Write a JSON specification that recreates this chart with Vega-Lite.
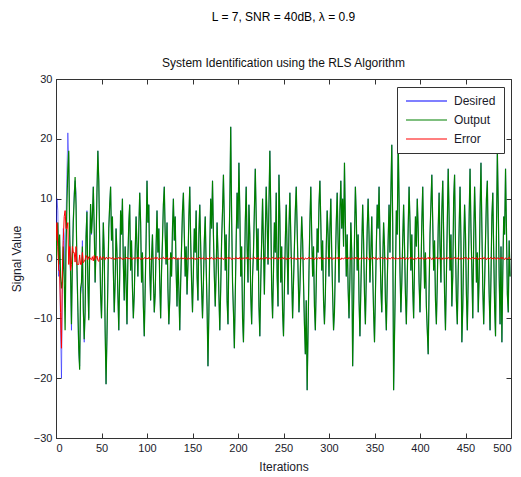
{
"$schema":"https://vega.github.io/schema/vega-lite/v6.json",
"width":455,"height":359,
"autosize":{"type":"none"},
"padding":{"left":56,"top":79,"right":10,"bottom":39},
"background":"white",
"title":{"text":"L = 7, SNR = 40dB, λ = 0.9","subtitle":"System Identification using the RLS Algorithm","anchor":"middle","font":"Liberation Sans","fontSize":12,"fontWeight":"normal","color":"#000","subtitleFont":"Liberation Sans","subtitleFontSize":12,"subtitleColor":"#111","subtitlePadding":34,"offset":3},
"config":{
 "view":{"stroke":"#333","strokeWidth":1},
 "axis":{"grid":false,"labelFont":"Liberation Sans","labelFontSize":11,"labelColor":"#1a1a2a","titleFont":"Liberation Sans","titleFontSize":12,"titleFontWeight":"normal","titleColor":"#1a1a2a","tickColor":"#333","domainColor":"#333","tickSize":-5,"labelPadding":9},
 "legend":{"orient":"none","legendX":341,"legendY":8,"title":null,"symbolType":"stroke","symbolSize":1681,"symbolStrokeWidth":1.2,"clipHeight":12,"labelFont":"Liberation Sans","labelFontSize":12,"labelColor":"#1a1a2a","strokeColor":"#333","fillColor":"white","padding":8,"rowPadding":7,"labelOffset":6}
},
"data":{"values":[
{"i":0,"d":3,"y":0,"e":3},{"i":1,"d":10,"y":4,"e":6},{"i":2,"d":8,"y":6,"e":2},{"i":3,"d":-3,"y":-1,"e":-2},{"i":4,"d":2,"y":4,"e":-2},{"i":5,"d":-12,"y":-3,"e":-9},{"i":6,"d":-20,"y":-5,"e":-15},{"i":7,"d":-6,"y":-4,"e":-2},{"i":8,"d":5,"y":2,"e":3},{"i":9,"d":4,"y":-3,"e":7},
{"i":10,"d":-4,"y":-12,"e":8},{"i":11,"d":6,"y":1,"e":5},{"i":12,"d":14,"y":9,"e":5},{"i":13,"d":21,"y":15,"e":6},{"i":14,"d":17,"y":18,"e":-1},{"i":15,"d":6,"y":4,"e":2},{"i":16,"d":-4,"y":-2,"e":-2},{"i":17,"d":-12,"y":-11,"e":-1},{"i":18,"d":1,"y":-1,"e":2},{"i":19,"d":7,"y":6,"e":1},
{"i":20,"d":11,"y":10,"e":1},{"i":21,"d":13,"y":13.6,"e":-0.6},{"i":22,"d":11,"y":9,"e":2},{"i":23,"d":-2,"y":-1,"e":-1},{"i":24,"d":-9,"y":-8,"e":-1},{"i":25,"d":-16,"y":-15,"e":-1},{"i":26,"d":-18,"y":-18.6,"e":0.6},{"i":27,"d":-6,"y":-5,"e":-1},{"i":28,"d":-5,"y":-4,"e":-1},{"i":29,"d":3,"y":2,"e":1},
{"i":30,"d":-9,"y":-8.3,"e":-0.7},{"i":31,"d":-14,"y":-13.5,"e":-0.5},{"i":32,"d":-9,"y":-8.8,"e":-0.2},{"i":33,"d":4,"y":3.5,"e":0.5},{"i":34,"d":8,"y":7.8,"e":0.2},{"i":35,"d":-4,"y":-3.8,"e":-0.2},{"i":36,"d":-10,"y":-10.3,"e":0.3},{"i":37,"d":1,"y":0.8,"e":0.2},{"i":38,"d":9,"y":9.1,"e":-0.1},{"i":39,"d":4,"y":4.2,"e":-0.2},
{"i":40,"d":7,"y":7,"e":0.3},{"i":41,"d":12,"y":12,"e":-0.4},{"i":42,"d":5,"y":5,"e":0.5},{"i":43,"d":-4,"y":-4,"e":-0.2},{"i":44,"d":2,"y":2,"e":0.1},{"i":45,"d":11,"y":11,"e":0.4},{"i":46,"d":18,"y":18,"e":-0.3},{"i":47,"d":13,"y":13,"e":-0.5},{"i":48,"d":3,"y":3,"e":0.2},{"i":49,"d":-6,"y":-6,"e":0.3},
{"i":50,"d":-10,"y":-10,"e":-0.2},{"i":51,"d":-3,"y":-3,"e":0.1},{"i":52,"d":6,"y":6,"e":0.3},{"i":53,"d":1,"y":1,"e":-0.1},{"i":54,"d":-12,"y":-12,"e":-0.2},{"i":55,"d":-21,"y":-21,"e":0.2},{"i":56,"d":-13,"y":-13,"e":0.1},{"i":57,"d":-4,"y":-4,"e":-0.1},{"i":58,"d":5,"y":5,"e":0.2},{"i":59,"d":9,"y":9,"e":0.1},
{"i":60,"d":12,"y":12,"e":0.1},{"i":61,"d":3,"y":3,"e":-0.1},{"i":62,"d":7,"y":7,"e":0.2},{"i":63,"d":-2,"y":-2,"e":0},{"i":64,"d":-9,"y":-9,"e":-0.2},{"i":65,"d":-4,"y":-4,"e":0.1},{"i":66,"d":5,"y":5,"e":0.1},{"i":67,"d":1,"y":1,"e":-0.1},{"i":68,"d":-6,"y":-6,"e":0},{"i":69,"d":-12,"y":-12,"e":0.2},
{"i":70,"d":-3,"y":-3,"e":-0.1},{"i":71,"d":8,"y":8,"e":0.2},{"i":72,"d":4,"y":4,"e":0},{"i":73,"d":10,"y":10,"e":-0.2},{"i":74,"d":-1,"y":-1,"e":0.1},{"i":75,"d":-7,"y":-7,"e":0},{"i":76,"d":2,"y":2,"e":-0.1},{"i":77,"d":-4,"y":-4,"e":0.1},{"i":78,"d":-11,"y":-11,"e":0.2},{"i":79,"d":0,"y":0,"e":-0.1},
{"i":80,"d":6,"y":6,"e":0.1},{"i":81,"d":9,"y":9,"e":-0.1},{"i":82,"d":-2,"y":-2,"e":0.2},{"i":83,"d":3,"y":3,"e":0},{"i":84,"d":-5,"y":-5,"e":-0.2},{"i":85,"d":-10,"y":-10,"e":0.1},{"i":86,"d":-6,"y":-6,"e":0.1},{"i":87,"d":1,"y":1,"e":-0.1},{"i":88,"d":7,"y":7,"e":0},{"i":89,"d":2,"y":2,"e":0.2},
{"i":90,"d":-3,"y":-3,"e":-0.1},{"i":91,"d":5,"y":5,"e":0.2},{"i":92,"d":11,"y":11,"e":0},{"i":93,"d":6,"y":6,"e":-0.2},{"i":94,"d":-4,"y":-4,"e":0.1},{"i":95,"d":1,"y":1,"e":0},{"i":96,"d":-8,"y":-8,"e":-0.1},{"i":97,"d":-13,"y":-13,"e":0.1},{"i":98,"d":-5,"y":-5,"e":0.2},{"i":99,"d":3,"y":3,"e":-0.1},
{"i":100,"d":13,"y":13,"e":0.1},{"i":101,"d":6,"y":6,"e":-0.1},{"i":102,"d":9,"y":9,"e":0.2},{"i":103,"d":-2,"y":-2,"e":0},{"i":104,"d":-7,"y":-7,"e":-0.2},{"i":105,"d":0,"y":0,"e":0.1},{"i":106,"d":4,"y":4,"e":0.1},{"i":107,"d":-3,"y":-3,"e":-0.1},{"i":108,"d":-9,"y":-9,"e":0},{"i":109,"d":-6,"y":-6,"e":0.2},
{"i":110,"d":2,"y":2,"e":-0.1},{"i":111,"d":8,"y":8,"e":0.2},{"i":112,"d":1,"y":1,"e":0},{"i":113,"d":5,"y":5,"e":-0.2},{"i":114,"d":-4,"y":-4,"e":0.1},{"i":115,"d":-10,"y":-10,"e":0},{"i":116,"d":-2,"y":-2,"e":-0.1},{"i":117,"d":3,"y":3,"e":0.1},{"i":118,"d":9,"y":9,"e":0.2},{"i":119,"d":12,"y":12,"e":-0.1},
{"i":120,"d":4,"y":4,"e":0.1},{"i":121,"d":-1,"y":-1,"e":-0.1},{"i":122,"d":6,"y":6,"e":0.2},{"i":123,"d":-5,"y":-5,"e":0},{"i":124,"d":-11,"y":-11,"e":-0.2},{"i":125,"d":-7,"y":-7,"e":0.1},{"i":126,"d":1,"y":1,"e":0.1},{"i":127,"d":-3,"y":-3,"e":-0.1},{"i":128,"d":5,"y":5,"e":0},{"i":129,"d":10,"y":10,"e":0.2},
{"i":130,"d":3,"y":3,"e":-0.1},{"i":131,"d":7,"y":7,"e":0.2},{"i":132,"d":-2,"y":-2,"e":0},{"i":133,"d":-8,"y":-8,"e":-0.2},{"i":134,"d":0,"y":0,"e":0.1},{"i":135,"d":-5,"y":-5,"e":0},{"i":136,"d":-12,"y":-12,"e":-0.1},{"i":137,"d":-4,"y":-4,"e":0.1},{"i":138,"d":2,"y":2,"e":0.2},{"i":139,"d":8,"y":8,"e":-0.1},
{"i":140,"d":11,"y":11,"e":0.1},{"i":141,"d":4,"y":4,"e":-0.1},{"i":142,"d":-3,"y":-3,"e":0.2},{"i":143,"d":2,"y":2,"e":0},{"i":144,"d":-6,"y":-6,"e":-0.2},{"i":145,"d":-1,"y":-1,"e":0.1},{"i":146,"d":7,"y":7,"e":0.1},{"i":147,"d":12,"y":12,"e":-0.1},{"i":148,"d":3,"y":3,"e":0},{"i":149,"d":-4,"y":-4,"e":0.2},
{"i":150,"d":-9,"y":-9,"e":-0.1},{"i":151,"d":-2,"y":-2,"e":0.2},{"i":152,"d":5,"y":5,"e":0},{"i":153,"d":1,"y":1,"e":-0.2},{"i":154,"d":8,"y":8,"e":0.1},{"i":155,"d":-3,"y":-3,"e":0},{"i":156,"d":-7,"y":-7,"e":-0.1},{"i":157,"d":4,"y":4,"e":0.1},{"i":158,"d":9,"y":9,"e":0.2},{"i":159,"d":2,"y":2,"e":-0.1},
{"i":160,"d":-5,"y":-5,"e":0.1},{"i":161,"d":-10,"y":-10,"e":-0.1},{"i":162,"d":-4,"y":-4,"e":0.2},{"i":163,"d":3,"y":3,"e":0},{"i":164,"d":7,"y":7,"e":-0.2},{"i":165,"d":-1,"y":-1,"e":0.1},{"i":166,"d":-8,"y":-8,"e":0.1},{"i":167,"d":-18,"y":-18,"e":-0.1},{"i":168,"d":-9,"y":-9,"e":0},{"i":169,"d":2,"y":2,"e":0.2},
{"i":170,"d":10,"y":10,"e":-0.1},{"i":171,"d":5,"y":5,"e":0.2},{"i":172,"d":13,"y":13,"e":0},{"i":173,"d":4,"y":4,"e":-0.2},{"i":174,"d":-3,"y":-3,"e":0.1},{"i":175,"d":-8,"y":-8,"e":0},{"i":176,"d":-2,"y":-2,"e":-0.1},{"i":177,"d":6,"y":6,"e":0.1},{"i":178,"d":1,"y":1,"e":0.2},{"i":179,"d":-6,"y":-6,"e":-0.1},
{"i":180,"d":-12,"y":-12,"e":0.1},{"i":181,"d":-5,"y":-5,"e":-0.1},{"i":182,"d":3,"y":3,"e":0.2},{"i":183,"d":8,"y":8,"e":0},{"i":184,"d":14,"y":14,"e":-0.2},{"i":185,"d":6,"y":6,"e":0.1},{"i":186,"d":-2,"y":-2,"e":0.1},{"i":187,"d":4,"y":4,"e":-0.1},{"i":188,"d":-7,"y":-7,"e":0},{"i":189,"d":-11,"y":-11,"e":0.2},
{"i":190,"d":1,"y":1,"e":-0.1},{"i":191,"d":9,"y":9,"e":0.2},{"i":192,"d":22,"y":22,"e":0},{"i":193,"d":7,"y":7,"e":-0.2},{"i":194,"d":-4,"y":-4,"e":0.1},{"i":195,"d":-9,"y":-9,"e":0},{"i":196,"d":-15,"y":-15,"e":-0.1},{"i":197,"d":-6,"y":-6,"e":0.1},{"i":198,"d":3,"y":3,"e":0.2},{"i":199,"d":11,"y":11,"e":-0.1},
{"i":200,"d":5,"y":5,"e":0.1},{"i":201,"d":16,"y":16,"e":-0.1},{"i":202,"d":8,"y":8,"e":0.2},{"i":203,"d":-3,"y":-3,"e":0},{"i":204,"d":2,"y":2,"e":-0.2},{"i":205,"d":-10,"y":-10,"e":0.1},{"i":206,"d":-14,"y":-14,"e":0.1},{"i":207,"d":-5,"y":-5,"e":-0.1},{"i":208,"d":6,"y":6,"e":0},{"i":209,"d":12,"y":12,"e":0.2},
{"i":210,"d":2,"y":2,"e":-0.1},{"i":211,"d":-4,"y":-4,"e":0.2},{"i":212,"d":9,"y":9,"e":0},{"i":213,"d":4,"y":4,"e":-0.2},{"i":214,"d":-6,"y":-6,"e":0.1},{"i":215,"d":-11,"y":-11,"e":0},{"i":216,"d":-3,"y":-3,"e":-0.1},{"i":217,"d":1,"y":1,"e":0.1},{"i":218,"d":8,"y":8,"e":0.2},{"i":219,"d":15,"y":15,"e":-0.1},
{"i":220,"d":7,"y":7,"e":0.1},{"i":221,"d":-2,"y":-2,"e":-0.1},{"i":222,"d":5,"y":5,"e":0.2},{"i":223,"d":-8,"y":-8,"e":0},{"i":224,"d":-13,"y":-13,"e":-0.2},{"i":225,"d":-4,"y":-4,"e":0.1},{"i":226,"d":3,"y":3,"e":0.1},{"i":227,"d":10,"y":10,"e":-0.1},{"i":228,"d":2,"y":2,"e":0},{"i":229,"d":-6,"y":-6,"e":0.2},
{"i":230,"d":4,"y":4,"e":-0.1},{"i":231,"d":12,"y":12,"e":0.2},{"i":232,"d":6,"y":6,"e":0},{"i":233,"d":-1,"y":-1,"e":-0.2},{"i":234,"d":9,"y":9,"e":0.1},{"i":235,"d":18,"y":18,"e":0},{"i":236,"d":8,"y":8,"e":-0.1},{"i":237,"d":-5,"y":-5,"e":0.1},{"i":238,"d":-10,"y":-10,"e":0.2},{"i":239,"d":-2,"y":-2,"e":-0.1},
{"i":240,"d":6,"y":6,"e":0.1},{"i":241,"d":1,"y":1,"e":-0.1},{"i":242,"d":11,"y":11,"e":0.2},{"i":243,"d":-3,"y":-3,"e":0},{"i":244,"d":-8,"y":-8,"e":-0.2},{"i":245,"d":14,"y":14,"e":0.1},{"i":246,"d":7,"y":7,"e":0.1},{"i":247,"d":-4,"y":-4,"e":-0.1},{"i":248,"d":2,"y":2,"e":0},{"i":249,"d":-9,"y":-9,"e":0.2},
{"i":250,"d":-13,"y":-13,"e":-0.1},{"i":251,"d":-5,"y":-5,"e":0.2},{"i":252,"d":3,"y":3,"e":0},{"i":253,"d":9,"y":9,"e":-0.2},{"i":254,"d":1,"y":1,"e":0.1},{"i":255,"d":-6,"y":-6,"e":0},{"i":256,"d":5,"y":5,"e":-0.1},{"i":257,"d":11,"y":11,"e":0.1},{"i":258,"d":4,"y":4,"e":0.2},{"i":259,"d":-3,"y":-3,"e":-0.1},
{"i":260,"d":-10,"y":-10,"e":0.1},{"i":261,"d":-4,"y":-4,"e":-0.1},{"i":262,"d":2,"y":2,"e":0.2},{"i":263,"d":8,"y":8,"e":0},{"i":264,"d":12,"y":12,"e":-0.2},{"i":265,"d":5,"y":5,"e":0.1},{"i":266,"d":-2,"y":-2,"e":0.1},{"i":267,"d":-9,"y":-9,"e":-0.1},{"i":268,"d":-5,"y":-5,"e":0},{"i":269,"d":1,"y":1,"e":0.2},
{"i":270,"d":7,"y":7,"e":-0.1},{"i":271,"d":3,"y":3,"e":0.2},{"i":272,"d":-4,"y":-4,"e":0},{"i":273,"d":-11,"y":-11,"e":-0.2},{"i":274,"d":-16,"y":-16,"e":0.1},{"i":275,"d":-7,"y":-7,"e":0},{"i":276,"d":-22,"y":-22,"e":-0.1},{"i":277,"d":-12,"y":-12,"e":0.1},{"i":278,"d":-2,"y":-2,"e":0.2},{"i":279,"d":6,"y":6,"e":-0.1},
{"i":280,"d":12,"y":12,"e":0.1},{"i":281,"d":4,"y":4,"e":-0.1},{"i":282,"d":-3,"y":-3,"e":0.2},{"i":283,"d":2,"y":2,"e":0},{"i":284,"d":-8,"y":-8,"e":-0.2},{"i":285,"d":-12,"y":-12,"e":0.1},{"i":286,"d":-4,"y":-4,"e":0.1},{"i":287,"d":5,"y":5,"e":-0.1},{"i":288,"d":1,"y":1,"e":0},{"i":289,"d":9,"y":9,"e":0.2},
{"i":290,"d":13,"y":13,"e":-0.1},{"i":291,"d":6,"y":6,"e":0.2},{"i":292,"d":-2,"y":-2,"e":0},{"i":293,"d":3,"y":3,"e":-0.2},{"i":294,"d":-7,"y":-7,"e":0.1},{"i":295,"d":-11,"y":-11,"e":0},{"i":296,"d":-6,"y":-6,"e":-0.1},{"i":297,"d":2,"y":2,"e":0.1},{"i":298,"d":8,"y":8,"e":0.2},{"i":299,"d":4,"y":4,"e":-0.1},
{"i":300,"d":-3,"y":-3,"e":0.1},{"i":301,"d":5,"y":5,"e":-0.1},{"i":302,"d":10,"y":10,"e":0.2},{"i":303,"d":1,"y":1,"e":0},{"i":304,"d":-6,"y":-6,"e":-0.2},{"i":305,"d":-12,"y":-12,"e":0.1},{"i":306,"d":-9,"y":-9,"e":0.1},{"i":307,"d":-1,"y":-1,"e":-0.1},{"i":308,"d":6,"y":6,"e":0},{"i":309,"d":11,"y":11,"e":0.2},
{"i":310,"d":3,"y":3,"e":-0.1},{"i":311,"d":-4,"y":-4,"e":0.2},{"i":312,"d":8,"y":8,"e":0},{"i":313,"d":13,"y":13,"e":-0.2},{"i":314,"d":5,"y":5,"e":0.1},{"i":315,"d":10,"y":10,"e":0},{"i":316,"d":2,"y":2,"e":-0.1},{"i":317,"d":16,"y":16,"e":0.1},{"i":318,"d":6,"y":6,"e":0.2},{"i":319,"d":-3,"y":-3,"e":-0.1},
{"i":320,"d":4,"y":4,"e":0.1},{"i":321,"d":-5,"y":-5,"e":-0.1},{"i":322,"d":-10,"y":-10,"e":0.2},{"i":323,"d":-3,"y":-3,"e":0},{"i":324,"d":6,"y":6,"e":-0.2},{"i":325,"d":1,"y":1,"e":0.1},{"i":326,"d":-18,"y":-18,"e":0.1},{"i":327,"d":-8,"y":-8,"e":-0.1},{"i":328,"d":3,"y":3,"e":0},{"i":329,"d":12,"y":12,"e":0.2},
{"i":330,"d":7,"y":7,"e":-0.1},{"i":331,"d":-2,"y":-2,"e":0.2},{"i":332,"d":4,"y":4,"e":0},{"i":333,"d":-7,"y":-7,"e":-0.2},{"i":334,"d":-13,"y":-13,"e":0.1},{"i":335,"d":-5,"y":-5,"e":0},{"i":336,"d":2,"y":2,"e":-0.1},{"i":337,"d":9,"y":9,"e":0.1},{"i":338,"d":3,"y":3,"e":0.2},{"i":339,"d":-6,"y":-6,"e":-0.1},
{"i":340,"d":-11,"y":-11,"e":0.1},{"i":341,"d":-3,"y":-3,"e":-0.1},{"i":342,"d":5,"y":5,"e":0.2},{"i":343,"d":10,"y":10,"e":0},{"i":344,"d":4,"y":4,"e":-0.2},{"i":345,"d":-4,"y":-4,"e":0.1},{"i":346,"d":1,"y":1,"e":0.1},{"i":347,"d":7,"y":7,"e":-0.1},{"i":348,"d":-2,"y":-2,"e":0},{"i":349,"d":-9,"y":-9,"e":0.2},
{"i":350,"d":-14,"y":-14,"e":-0.1},{"i":351,"d":-6,"y":-6,"e":0.2},{"i":352,"d":2,"y":2,"e":0},{"i":353,"d":9,"y":9,"e":-0.2},{"i":354,"d":5,"y":5,"e":0.1},{"i":355,"d":12,"y":12,"e":0},{"i":356,"d":3,"y":3,"e":-0.1},{"i":357,"d":-5,"y":-5,"e":0.1},{"i":358,"d":-9,"y":-9,"e":0.2},{"i":359,"d":-1,"y":-1,"e":-0.1},
{"i":360,"d":6,"y":6,"e":0.1},{"i":361,"d":2,"y":2,"e":-0.1},{"i":362,"d":-7,"y":-7,"e":0.2},{"i":363,"d":-12,"y":-12,"e":0},{"i":364,"d":-4,"y":-4,"e":-0.2},{"i":365,"d":3,"y":3,"e":0.1},{"i":366,"d":9,"y":9,"e":0.1},{"i":367,"d":1,"y":1,"e":-0.1},{"i":368,"d":11,"y":11,"e":0},{"i":369,"d":19,"y":19,"e":0.2},
{"i":370,"d":6,"y":6,"e":-0.1},{"i":371,"d":-22,"y":-22,"e":0.2},{"i":372,"d":-13,"y":-13,"e":0},{"i":373,"d":-3,"y":-3,"e":-0.2},{"i":374,"d":8,"y":8,"e":0.1},{"i":375,"d":4,"y":4,"e":0},{"i":376,"d":20,"y":20,"e":-0.1},{"i":377,"d":10,"y":10,"e":0.1},{"i":378,"d":-2,"y":-2,"e":0.2},{"i":379,"d":-9,"y":-9,"e":-0.1},
{"i":380,"d":-4,"y":-4,"e":0.1},{"i":381,"d":3,"y":3,"e":-0.1},{"i":382,"d":9,"y":9,"e":0.2},{"i":383,"d":2,"y":2,"e":0},{"i":384,"d":-6,"y":-6,"e":-0.2},{"i":385,"d":-11,"y":-11,"e":0.1},{"i":386,"d":-3,"y":-3,"e":0.1},{"i":387,"d":5,"y":5,"e":-0.1},{"i":388,"d":12,"y":12,"e":0},{"i":389,"d":6,"y":6,"e":0.2},
{"i":390,"d":-2,"y":-2,"e":-0.1},{"i":391,"d":4,"y":4,"e":0.2},{"i":392,"d":-5,"y":-5,"e":0},{"i":393,"d":-10,"y":-10,"e":-0.2},{"i":394,"d":-1,"y":-1,"e":0.1},{"i":395,"d":7,"y":7,"e":0},{"i":396,"d":2,"y":2,"e":-0.1},{"i":397,"d":10,"y":10,"e":0.1},{"i":398,"d":5,"y":5,"e":0.2},{"i":399,"d":-4,"y":-4,"e":-0.1},
{"i":400,"d":-9,"y":-9,"e":0.1},{"i":401,"d":-3,"y":-3,"e":-0.1},{"i":402,"d":6,"y":6,"e":0.2},{"i":403,"d":12,"y":12,"e":0},{"i":404,"d":3,"y":3,"e":-0.2},{"i":405,"d":-5,"y":-5,"e":0.1},{"i":406,"d":1,"y":1,"e":0.1},{"i":407,"d":-8,"y":-8,"e":-0.1},{"i":408,"d":-12,"y":-12,"e":0},{"i":409,"d":-16,"y":-16,"e":0.2},
{"i":410,"d":-5,"y":-5,"e":-0.1},{"i":411,"d":4,"y":4,"e":0.2},{"i":412,"d":9,"y":9,"e":0},{"i":413,"d":14,"y":14,"e":-0.2},{"i":414,"d":6,"y":6,"e":0.1},{"i":415,"d":-2,"y":-2,"e":0},{"i":416,"d":3,"y":3,"e":-0.1},{"i":417,"d":-7,"y":-7,"e":0.1},{"i":418,"d":-11,"y":-11,"e":0.2},{"i":419,"d":-4,"y":-4,"e":-0.1},
{"i":420,"d":5,"y":5,"e":0.1},{"i":421,"d":11,"y":11,"e":-0.1},{"i":422,"d":2,"y":2,"e":0.2},{"i":423,"d":-4,"y":-4,"e":0},{"i":424,"d":8,"y":8,"e":-0.2},{"i":425,"d":13,"y":13,"e":0.1},{"i":426,"d":4,"y":4,"e":0.1},{"i":427,"d":-6,"y":-6,"e":-0.1},{"i":428,"d":-12,"y":-12,"e":0},{"i":429,"d":-3,"y":-3,"e":0.2},
{"i":430,"d":6,"y":6,"e":-0.1},{"i":431,"d":15,"y":15,"e":0.2},{"i":432,"d":7,"y":7,"e":0},{"i":433,"d":-2,"y":-2,"e":-0.2},{"i":434,"d":4,"y":4,"e":0.1},{"i":435,"d":-8,"y":-8,"e":0},{"i":436,"d":-3,"y":-3,"e":-0.1},{"i":437,"d":10,"y":10,"e":0.1},{"i":438,"d":14,"y":14,"e":0.2},{"i":439,"d":2,"y":2,"e":-0.1},
{"i":440,"d":-7,"y":-7,"e":0.1},{"i":441,"d":-11,"y":-11,"e":-0.1},{"i":442,"d":-2,"y":-2,"e":0.2},{"i":443,"d":5,"y":5,"e":0},{"i":444,"d":12,"y":12,"e":-0.2},{"i":445,"d":3,"y":3,"e":0.1},{"i":446,"d":-14,"y":-14,"e":0.1},{"i":447,"d":-8,"y":-8,"e":-0.1},{"i":448,"d":1,"y":1,"e":0},{"i":449,"d":9,"y":9,"e":0.2},
{"i":450,"d":4,"y":4,"e":-0.1},{"i":451,"d":-6,"y":-6,"e":0.2},{"i":452,"d":-12,"y":-12,"e":0},{"i":453,"d":-3,"y":-3,"e":-0.2},{"i":454,"d":7,"y":7,"e":0.1},{"i":455,"d":15,"y":15,"e":0},{"i":456,"d":5,"y":5,"e":-0.1},{"i":457,"d":-2,"y":-2,"e":0.1},{"i":458,"d":-10,"y":-10,"e":0.2},{"i":459,"d":3,"y":3,"e":-0.1},
{"i":460,"d":12,"y":12,"e":0.1},{"i":461,"d":6,"y":6,"e":-0.1},{"i":462,"d":-4,"y":-4,"e":0.2},{"i":463,"d":1,"y":1,"e":0},{"i":464,"d":-9,"y":-9,"e":-0.2},{"i":465,"d":-3,"y":-3,"e":0.1},{"i":466,"d":8,"y":8,"e":0.1},{"i":467,"d":16,"y":16,"e":-0.1},{"i":468,"d":5,"y":5,"e":0},{"i":469,"d":-5,"y":-5,"e":0.2},
{"i":470,"d":-11,"y":-11,"e":-0.1},{"i":471,"d":-4,"y":-4,"e":0.2},{"i":472,"d":3,"y":3,"e":0},{"i":473,"d":10,"y":10,"e":-0.2},{"i":474,"d":13,"y":13,"e":0.1},{"i":475,"d":2,"y":2,"e":0},{"i":476,"d":-6,"y":-6,"e":-0.1},{"i":477,"d":-12,"y":-12,"e":0.1},{"i":478,"d":-3,"y":-3,"e":0.2},{"i":479,"d":7,"y":7,"e":-0.1},
{"i":480,"d":11,"y":11,"e":0.1},{"i":481,"d":1,"y":1,"e":-0.1},{"i":482,"d":-8,"y":-8,"e":0.2},{"i":483,"d":-13,"y":-13,"e":0},{"i":484,"d":4,"y":4,"e":-0.2},{"i":485,"d":18,"y":18,"e":0.1},{"i":486,"d":9,"y":9,"e":0.1},{"i":487,"d":-3,"y":-3,"e":-0.1},{"i":488,"d":-11,"y":-11,"e":0},{"i":489,"d":2,"y":2,"e":0.2},
{"i":490,"d":-14,"y":-14,"e":-0.1},{"i":491,"d":-2,"y":-2,"e":0.2},{"i":492,"d":7,"y":7,"e":0},{"i":493,"d":4,"y":4,"e":-0.2},{"i":494,"d":15,"y":15,"e":0.1},{"i":495,"d":5,"y":5,"e":0},{"i":496,"d":-6,"y":-6,"e":-0.1},{"i":497,"d":-9,"y":-9,"e":0.1},{"i":498,"d":3,"y":3,"e":0.2},{"i":499,"d":-3,"y":-3,"e":-0.1}
]},
"layer":[
{"mark":{"type":"line","strokeWidth":0.5,"clip":true},
 "encoding":{
  "x":{"field":"i","type":"quantitative","scale":{"domain":[0,500],"nice":false},"axis":{"title":"Iterations","values":[0,50,100,150,200,250,300,350,400,450,500],"titlePadding":8}},
  "y":{"field":"d","type":"quantitative","scale":{"domain":[-30,30],"nice":false},"axis":{"title":"Signal Value","values":[-30,-20,-10,0,10,20,30],"titlePadding":10}},
  "color":{"datum":"Desired","type":"nominal","scale":{"domain":["Desired","Output","Error"],"range":["#0000ff","#008000","#ff0000"]}}}},
{"mark":{"type":"line","strokeWidth":1.2,"clip":true},
 "encoding":{
  "x":{"field":"i","type":"quantitative","axis":{"orient":"top","labels":false,"title":null,"domain":false,"values":[0,50,100,150,200,250,300,350,400,450,500]}},
  "y":{"field":"y","type":"quantitative","axis":{"orient":"right","labels":false,"title":null,"domain":false,"values":[-30,-20,-10,0,10,20,30]}},
  "color":{"datum":"Output","type":"nominal"}}},
{"mark":{"type":"line","strokeWidth":1,"clip":true},
 "encoding":{
  "x":{"field":"i","type":"quantitative","axis":null},
  "y":{"field":"e","type":"quantitative","axis":null},
  "color":{"datum":"Error","type":"nominal"}}}
],
"resolve":{"axis":{"x":"independent","y":"independent"}}
}
